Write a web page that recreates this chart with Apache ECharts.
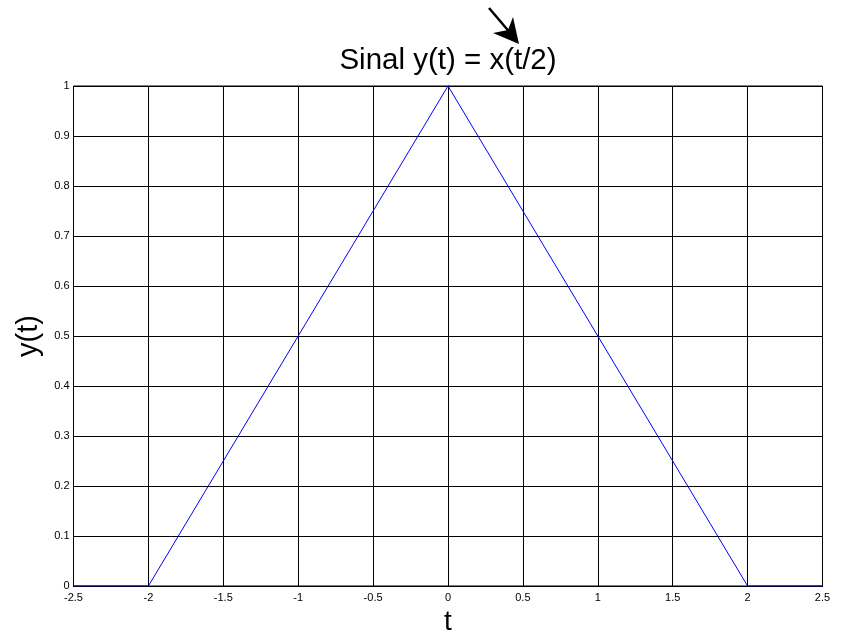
<!DOCTYPE html>
<html><head><meta charset="utf-8">
<script src="https://cdn.jsdelivr.net/npm/echarts@6/dist/echarts.min.js"></script>
<style>html,body{margin:0;padding:0;background:#fff;overflow:hidden}#c{width:841px;height:634px}</style>
</head><body><div id="c"></div>
<script>
var tValues = [-2.5, -2, 0, 2, 2.5];
var yValues = [0, 0, 1, 0, 0];
var xTicks = [-2.5, -2, -1.5, -1, -0.5, 0, 0.5, 1, 1.5, 2, 2.5];
var yTicks = [0, 0.1, 0.2, 0.3, 0.4, 0.5, 0.6, 0.7, 0.8, 0.9, 1];
var titleText = 'Sinal y(t) = x(t/2)';
var xName = 't';
var yName = 'y(t)';

var font = 'Liberation Sans, Arial, sans-serif';
var chart = echarts.init(document.getElementById('c'), null, {width: 841, height: 634});
chart.setOption({
  animation: false,
  backgroundColor: '#fff',
  title: {text: titleText, left: 448, textAlign: 'center', top: 46, padding: 0,
    textStyle: {fontFamily: font, fontSize: 29.5, fontWeight: 'normal', color: '#000'}},
  grid: {left: 73.5, top: 86, width: 749, height: 500, containLabel: false,
    outerBoundsMode: 'none',
    show: true, borderColor: '#000', borderWidth: 1},
  xAxis: {type: 'value', min: -2.5, max: 2.5, interval: 0.5,
    name: xName, nameLocation: 'middle', nameGap: 20,
    nameTextStyle: {fontFamily: font, fontSize: 28, color: '#000'},
    axisLine: {lineStyle: {color: '#000', width: 1}},
    axisTick: {inside: true, length: 5, lineStyle: {color: '#000'}},
    axisLabel: {fontFamily: font, fontSize: 11, color: '#000', margin: 6,
      formatter: function(v){ return String(xTicks.find(function(t){return Math.abs(t-v)<1e-9;})); }},
    splitLine: {show: true, lineStyle: {color: '#000', width: 1}}},
  yAxis: {type: 'value', min: 0, max: 1, interval: 0.1,
    name: yName, nameLocation: 'middle', nameGap: 26, nameRotate: 90,
    nameTextStyle: {fontFamily: font, fontSize: 29, color: '#000'},
    axisLine: {show: true, lineStyle: {color: '#000', width: 1}},
    axisTick: {show: true, inside: true, length: 5, lineStyle: {color: '#000'}},
    axisLabel: {fontFamily: font, fontSize: 11, color: '#000', margin: 4,
      formatter: function(v){ var t = yTicks.find(function(q){return Math.abs(q-v)<1e-9;}); return String(t); }},
    splitLine: {show: true, lineStyle: {color: '#000', width: 1}}},
  series: [{type: 'line', data: tValues.map(function(t,i){return [t, yValues[i]];}),
    showSymbol: false, symbol: 'none', lineStyle: {color: '#0000ff', width: 1}, z: 5}],
  graphic: [
    {type: 'line', shape: {x1: 489, y1: 8, x2: 512, y2: 35}, style: {stroke: '#000', lineWidth: 2.5}},
    {type: 'polygon', shape: {points: [[519, 44], [493, 33], [508, 30], [513, 17]]}, style: {fill: '#000'}}
  ]
});
</script></body></html>
